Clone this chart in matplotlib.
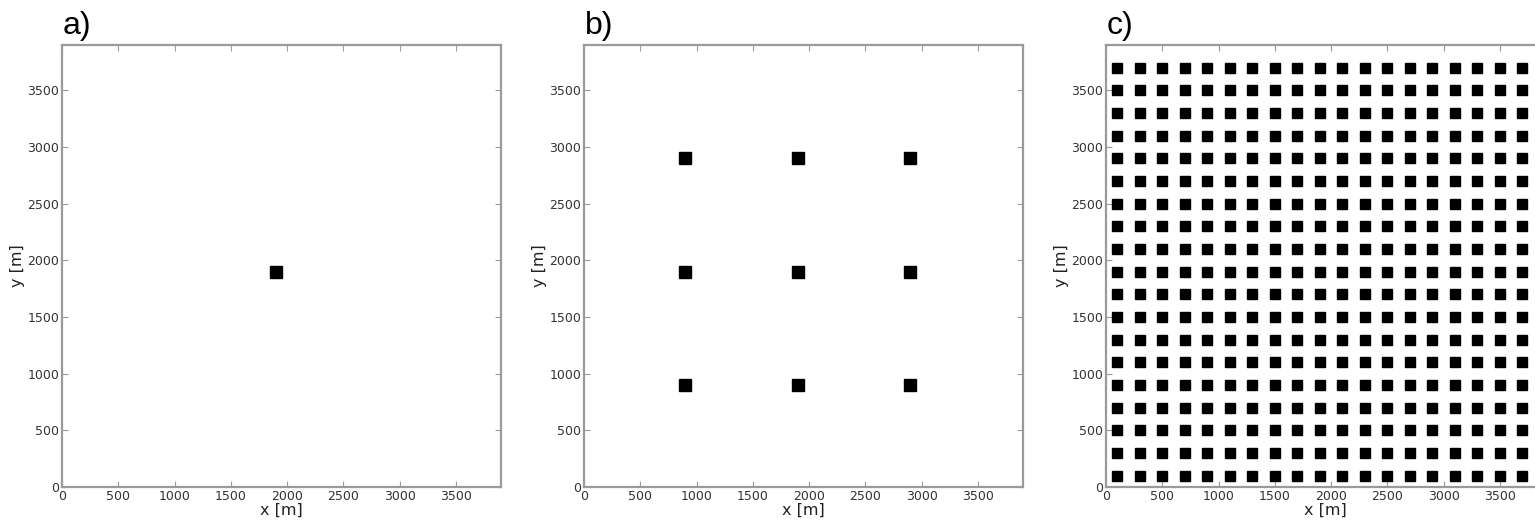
import numpy as np
from matplotlib import pyplot as plt

# turbine positions [m]
a_x = [1900]
a_y = [1900]
b_pos = [900, 1900, 2900]
c_pos = [100, 300, 500, 700, 900, 1100, 1300, 1500, 1700, 1900,
         2100, 2300, 2500, 2700, 2900, 3100, 3300, 3500, 3700]

ticks = [0, 500, 1000, 1500, 2000, 2500, 3000, 3500]
panel_labels = ["a)", "b)", "c)"]

W, H = 1535, 525
fig = plt.figure(figsize=(W / 100, H / 100), dpi=100)

lefts = [62, 584, 1106]
spine_col = "#9a9a9a"


def _setup(ax, label):
    """Classic-looking axes with inward ticks"""
    ax.set_xlim(0, 3900)
    ax.set_ylim(0, 3900)
    ax.set_xticks(ticks)
    ax.set_yticks(ticks)
    ax.tick_params(direction="in", length=4, width=0.8, color=spine_col,
                   labelsize=9, labelcolor="#333333", top=True, right=True, pad=2)
    for s in ax.spines.values():
        s.set_color(spine_col)
        s.set_linewidth(1.6)
    ax.set_xlabel("x [m]", fontsize=11.5, color="#222222", labelpad=0)
    ax.set_ylabel("y [m]", fontsize=11.5, color="#222222", labelpad=2)
    ax.text(0.002, 1.025, label, transform=ax.transAxes, fontsize=23,
            family="Liberation Sans", ha="left", va="baseline")


axes = []
for i, left in enumerate(lefts):
    ax = fig.add_axes([left / W, 38 / H, 439 / W, 442 / H])
    _setup(ax, panel_labels[i])
    axes.append(ax)

axes[0].plot(a_x, a_y, "s", color="black", markersize=8.3)

bx, by = np.meshgrid(b_pos, b_pos)
axes[1].plot(bx.ravel(), by.ravel(), "s", color="black", markersize=8.3)

cx, cy = np.meshgrid(c_pos, c_pos)
axes[2].plot(cx.ravel(), cy.ravel(), "s", color="black", markersize=7.8)

fig.savefig("out.png", dpi=100)
